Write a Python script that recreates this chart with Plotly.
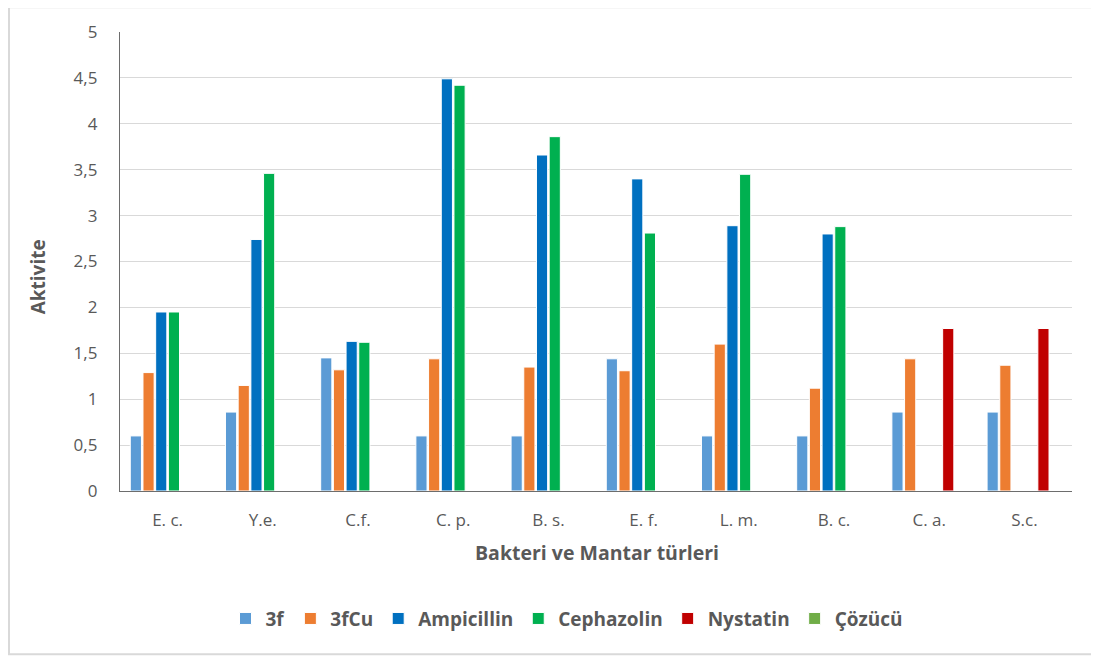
import plotly.graph_objects as go

categories = ["E. c.", "Y.e.", "C.f.", "C. p.", "B. s.", "E. f.", "L. m.", "B. c.", "C. a.", "S.c."]
v_3f = [0.60, 0.86, 1.45, 0.60, 0.60, 1.44, 0.60, 0.60, 0.86, 0.86]
v_3fCu = [1.29, 1.15, 1.32, 1.44, 1.35, 1.31, 1.60, 1.12, 1.44, 1.37]
v_ampicillin = [1.95, 2.74, 1.63, 4.49, 3.66, 3.40, 2.89, 2.80, None, None]
v_cephazolin = [1.95, 3.46, 1.62, 4.42, 3.86, 2.81, 3.45, 2.88, None, None]
v_nystatin = [None, None, None, None, None, None, None, None, 1.77, 1.77]
v_cozucu = [None] * 10
y_ticks = [0, 0.5, 1, 1.5, 2, 2.5, 3, 3.5, 4, 4.5, 5]

series = [
    ("3f", v_3f, "#5B9BD5"),
    ("3fCu", v_3fCu, "#ED7D31"),
    ("Ampicillin", v_ampicillin, "#0070C0"),
    ("Cephazolin", v_cephazolin, "#00B050"),
    ("Nystatin", v_nystatin, "#C00000"),
    ("Çözücü", v_cozucu, "#70AD47"),
]

FONT = "Open Sans"
GRAY = "#595959"

# page body has an 8px margin; the figure starts at (8, 8) in the window
OFF = 8
PL, PR, PT, PB = 120, 1072, 27, 491   # plot area in window pixels
W, H = 1099 - OFF, 659 - OFF


def px(xw):
    return (xw - PL) / (PR - PL)


def py(yw):
    return (PB - yw) / (PB - PT)


fig = go.Figure()
for name, vals, color in series:
    fig.add_trace(go.Bar(
        name=name, x=categories, y=vals,
        marker=dict(color=color, line=dict(color="white", width=1)),
    ))

fig.update_layout(
    width=W, height=H,
    margin=dict(l=PL - OFF, r=W - (PR - OFF), t=PT - OFF, b=H - (PB - OFF), pad=0),
    paper_bgcolor="white", plot_bgcolor="white",
    separators=",.",
    barmode="group", bargap=0.2, bargroupgap=0.12,
    font=dict(family=FONT, color=GRAY, size=15),
    showlegend=True,
    legend=dict(
        orientation="h", x=px(567), xanchor="center", y=py(620), yanchor="middle",
        font=dict(family=FONT, size=19, color=GRAY, weight="bold"),
        itemwidth=30, tracegroupgap=0,
    ),
    xaxis=dict(
        showline=True, linecolor="#6d6d6d", linewidth=1.3,
        showgrid=False, ticks="", ticklabelstandoff=13,
        tickfont=dict(family=FONT, size=17, color=GRAY),
    ),
    yaxis=dict(
        range=[0, 5], tickvals=y_ticks,
        showline=True, linecolor="#6d6d6d", linewidth=1.3,
        showgrid=True, gridcolor="#D9D9D9", gridwidth=1,
        zeroline=False, ticks="", ticklabelstandoff=18,
        tickfont=dict(family=FONT, size=17, color=GRAY),
    ),
    annotations=[
        dict(text="Aktivite", xref="paper", yref="paper",
             x=px(38), y=py(275), showarrow=False,
             textangle=-90, xanchor="center", yanchor="middle",
             font=dict(family=FONT, size=19, color=GRAY, weight="bold")),
        dict(text="Bakteri ve Mantar türleri", xref="paper", yref="paper",
             x=px(597), y=py(553), showarrow=False,
             xanchor="center", yanchor="middle",
             font=dict(family=FONT, size=19.5, color=GRAY, weight="bold")),
    ],
    shapes=[
        dict(type="rect", xref="paper", yref="paper",
             x0=px(9), x1=px(1096), y0=py(656), y1=py(2),
             line=dict(color="#D9D9D9", width=2), fillcolor="rgba(0,0,0,0)",
             layer="below"),
    ],
)

fig.write_html("out.html")
